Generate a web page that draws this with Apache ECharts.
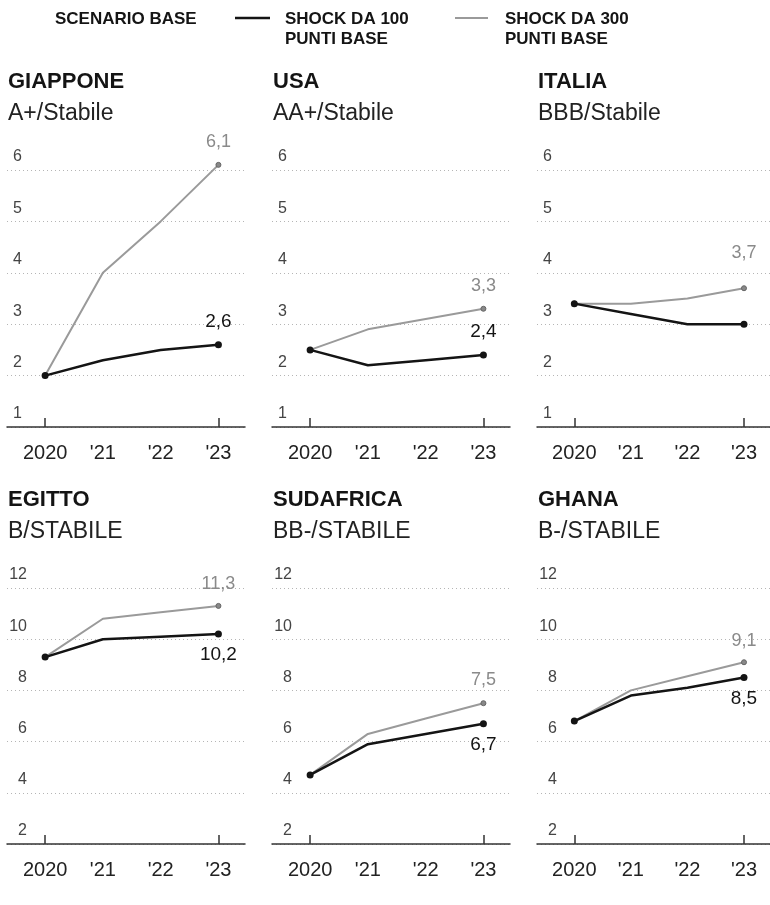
<!DOCTYPE html>
<html>
<head>
<meta charset="utf-8">
<script src="https://cdn.jsdelivr.net/npm/echarts@6/dist/echarts.min.js"></script>
<style>
  html, body { margin: 0; padding: 0; background: #fff; }
  #chart { width: 770px; height: 905px; }
</style>
</head>
<body>
<div id="chart"></div>
<script>
// Interest burden under two rate-shock scenarios, 2020-2023, six sovereigns
const years = [2020, 2021, 2022, 2023];
const yearLabels = ['2020', "'21", "'22", "'23"];
const countries = ['GIAPPONE', 'USA', 'ITALIA', 'EGITTO', 'SUDAFRICA', 'GHANA'];
const ratings = ['A+/Stabile', 'AA+/Stabile', 'BBB/Stabile', 'B/STABILE', 'BB-/STABILE', 'B-/STABILE'];
const shock100 = [
  [2.0, 2.3, 2.5, 2.6],
  [2.5, 2.2, 2.3, 2.4],
  [3.4, 3.2, 3.0, 3.0],
  [9.3, 10.0, 10.1, 10.2],
  [4.7, 5.9, 6.3, 6.7],
  [6.8, 7.8, 8.1, 8.5]
];
const shock300 = [
  [2.0, 4.0, 5.0, 6.1],
  [2.5, 2.9, 3.1, 3.3],
  [3.4, 3.4, 3.5, 3.7],
  [9.3, 10.8, 11.05, 11.3],
  [4.7, 6.3, 6.9, 7.5],
  [6.8, 8.0, 8.55, 9.1]
];
const yTicksTop = [1, 2, 3, 4, 5, 6];
const yTicksBottom = [2, 4, 6, 8, 10, 12];
const legendLabels = ['SCENARIO BASE', 'SHOCK DA 100\nPUNTI BASE', 'SHOCK DA 300\nPUNTI BASE'];

// where the end-of-line value labels sit in each panel
const blackLabelPos = ['top', 'top', null, 'bottom', 'bottom', 'bottom'];
const grayLabelGap = [11, 11, 23, 10, 11, 9];

const FONT = '"Liberation Sans", Arial, sans-serif';
const BLACK = '#141414';
const GRAY = '#9a9a9a';

const colLeft = [7, 272, 537];
const rowTop = [170, 588];
const rowHeight = [257, 256];
const rowTitleTop = [71, 489];
const panelWidth = 238;
const xMin = 2019.34, xMax = 2023.46;

const fmt = v => v.toFixed(1).replace('.', ',');

const grids = [], xAxes = [], yAxes = [], series = [], titles = [];

countries.forEach((name, k) => {
  const row = Math.floor(k / 3), col = k % 3;
  const ticks = row === 0 ? yTicksTop : yTicksBottom;

  titles.push({
    text: name, subtext: ratings[k],
    left: colLeft[col] + 1, top: rowTitleTop[row], padding: 0, itemGap: 9,
    textStyle: { fontFamily: FONT, fontSize: 22, fontWeight: 'bold', color: BLACK },
    subtextStyle: { fontFamily: FONT, fontSize: 23, color: '#222' }
  });

  grids.push({ left: colLeft[col], top: rowTop[row], width: panelWidth, height: rowHeight[row] });

  xAxes.push({
    gridIndex: k, type: 'value', min: xMin, max: xMax,
    axisLine: { show: true, onZero: false, lineStyle: { color: '#333', width: 1.5 } },
    axisTick: { show: true, inside: true, length: 9, customValues: [years[0], years[years.length - 1]],
      lineStyle: { color: '#333', width: 1.5 } },
    axisLabel: { customValues: years, margin: 16, fontFamily: FONT, fontSize: 20, color: '#222',
      formatter: v => yearLabels[years.indexOf(Math.round(v))] },
    splitLine: { show: false }
  });

  yAxes.push({
    gridIndex: k, type: 'value',
    min: ticks[0], max: ticks[ticks.length - 1], interval: ticks[1] - ticks[0],
    axisLine: { show: false }, axisTick: { show: false },
    axisLabel: { inside: true, align: 'right', verticalAlign: 'bottom', margin: row === 0 ? 15 : 20,
      padding: [0, 0, 5, 0], fontFamily: FONT, fontSize: 16, color: '#444' },
    splitLine: { show: true, lineStyle: { color: '#b5b5b5', width: 1, type: [1, 3] } }
  });

  const buildData = (vals, labelCfg) => vals.map((v, i) => {
    const last = i === vals.length - 1;
    const item = { value: [years[i], v], symbol: (i === 0 || last) ? 'circle' : 'none' };
    if (last && labelCfg) item.label = labelCfg;
    return item;
  });

  series.push({
    type: 'line', xAxisIndex: k, yAxisIndex: k, z: 2, clip: false,
    symbolSize: 5, showAllSymbol: true,
    lineStyle: { color: GRAY, width: 2 },
    itemStyle: { color: '#888', borderColor: '#666', borderWidth: 1 },
    emphasis: { disabled: true },
    data: buildData(shock300[k], {
      show: true, position: 'top', distance: grayLabelGap[k],
      fontFamily: FONT, fontSize: 18, color: '#8a8a8a', formatter: p => fmt(p.value[1])
    })
  });

  series.push({
    type: 'line', xAxisIndex: k, yAxisIndex: k, z: 3, clip: false,
    symbolSize: 7, showAllSymbol: true,
    lineStyle: { color: BLACK, width: 2.5 },
    itemStyle: { color: BLACK },
    emphasis: { disabled: true },
    data: buildData(shock100[k], blackLabelPos[k] ? {
      show: true, position: blackLabelPos[k], distance: blackLabelPos[k] === 'top' ? 10 : 8,
      fontFamily: FONT, fontSize: 19, color: BLACK, formatter: p => fmt(p.value[1])
    } : null)
  });
});

// legend: plain heading, then black and gray line keys
const legendText = { fontFamily: FONT, fontSize: 17, fontWeight: 'bold', fill: BLACK, lineHeight: 20 };
const graphic = [
  { type: 'text', left: 55, top: 9, style: Object.assign({ text: legendLabels[0] }, legendText) },
  { type: 'line', shape: { x1: 235, y1: 18, x2: 270, y2: 18 }, style: { stroke: BLACK, lineWidth: 2.5 } },
  { type: 'text', left: 285, top: 9, style: Object.assign({ text: legendLabels[1] }, legendText) },
  { type: 'line', shape: { x1: 455, y1: 18, x2: 488, y2: 18 }, style: { stroke: GRAY, lineWidth: 2 } },
  { type: 'text', left: 505, top: 9, style: Object.assign({ text: legendLabels[2] }, legendText) }
];

const chart = echarts.init(document.getElementById('chart'), null, { renderer: 'canvas' });
chart.setOption({
  animation: false,
  backgroundColor: '#fff',
  title: titles,
  grid: grids,
  xAxis: xAxes,
  yAxis: yAxes,
  series: series,
  graphic: graphic
});
</script>
</body>
</html>
